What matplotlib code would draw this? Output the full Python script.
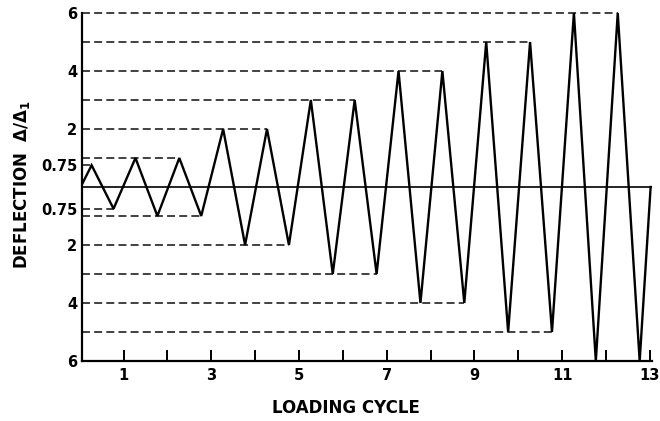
import matplotlib
matplotlib.use("Agg")

import matplotlib.pyplot as plt
import numpy as np

# ── loading protocol ─────────────────────────────────────────────────────────
# one peak/trough pair per cycle, amplitude as multiple of the first yield drift
cycle_amplitude = [0.75, 1.0, 1.0, 2.0, 2.0, 3.0, 3.0, 4.0, 4.0, 5.0, 5.0, 6.0, 6.0]
peak_offset     = 0.27   # position of the positive peak within a cycle
trough_offset   = 0.77   # position of the negative peak within a cycle
start_cycle     = 0.02   # zero crossing where loading begins
end_cycle       = 13.02  # unloaded again after the last cycle

ref_levels   = [0.75, 1.0, 2.0, 3.0, 4.0, 5.0, 6.0]
ytick_values = [6, 4, 2, 0.75, -0.75, -2, -4, -6]
ytick_labels = ["6", "4", "2", "0.75", "0.75", "2", "4", "6"]
xtick_major  = [1, 3, 5, 7, 9, 11, 13]
xtick_minor  = [2, 4, 6, 8, 10, 12]

# ── build the saw-tooth history ─────────────────────────────────────────────
cyc_x = [start_cycle]
cyc_y = [0.0]
peak_x, trough_x = [], []
for k, amp in enumerate(cycle_amplitude):
    peak_x.append(k + peak_offset)
    trough_x.append(k + trough_offset)
    cyc_x += [k + peak_offset, k + trough_offset]
    cyc_y += [amp, -amp]
cyc_x.append(end_cycle)
cyc_y.append(0.0)

# ── figure ──────────────────────────────────────────────────────────────────
plt.rcParams.update({
    "font.family": "DejaVu Sans",
    "font.weight": "bold",
})

fig = plt.figure(figsize=(6.6, 4.21), dpi=100)
ax = fig.add_axes([0.1242, 0.1219, 0.8636, 0.8679])
x0, x1 = 0.05, 13.05
ax.set_xlim(x0, x1)
ax.set_ylim(-6.3, 6.3)

# dashed guides out to the last peak of each amplitude
amps = np.array(cycle_amplitude)
dash = (0, (4.6, 2.4))
for lev in ref_levels:
    idx = np.where(amps == lev)[0]
    if len(idx) == 0:
        continue
    last = idx[-1]
    ax.hlines(lev, x0, peak_x[last], colors="#2a2a2a", linestyles=dash,
              linewidth=1.25, zorder=2)
    ax.hlines(-lev, x0, trough_x[last], colors="#2a2a2a", linestyles=dash,
              linewidth=1.25, zorder=2)

ax.axhline(0, color="black", linewidth=1.2, zorder=3)
ax.plot(cyc_x, cyc_y, color="black", linewidth=1.7, solid_joinstyle="miter", zorder=4)

# axes frame: left and bottom only, bottom sitting at -6
for side in ("top", "right"):
    ax.spines[side].set_visible(False)
ax.spines["left"].set_bounds(-6, 6)
ax.spines["left"].set_linewidth(1.6)
ax.spines["bottom"].set_position(("data", -6))
ax.spines["bottom"].set_linewidth(1.6)

ax.set_yticks(ytick_values)
ax.set_yticklabels(ytick_labels)
ax.tick_params(axis="y", length=0, pad=3.5, labelsize=10.5)

ax.set_xticks(xtick_major)
ax.set_xticks(xtick_minor, minor=True)
ax.tick_params(axis="x", which="both", direction="in", length=8, width=1.4,
               pad=5, labelsize=10.5)
for lbl in ax.get_xticklabels() + ax.get_yticklabels():
    lbl.set_fontweight("bold")

ax.set_xlabel("LOADING CYCLE", fontsize=12, fontweight="bold")
ax.xaxis.set_label_coords(0.463, -0.105)
ax.set_ylabel(r"DEFLECTION  $\Delta/\Delta_1$", fontsize=12, fontweight="bold")
ax.yaxis.set_label_coords(-0.105, 0.508)
ax.xaxis.label.set_verticalalignment("center")
ax.yaxis.label.set_verticalalignment("center")

fig.savefig("out.png", dpi=100)
